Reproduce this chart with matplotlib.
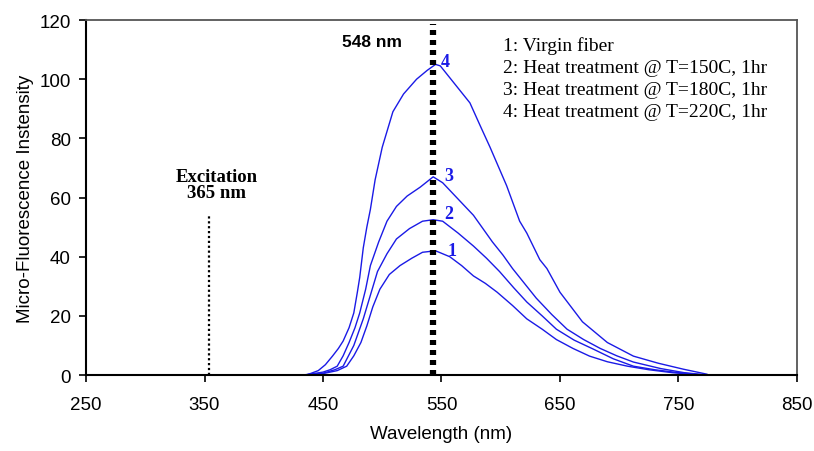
import matplotlib
matplotlib.use('Agg')
import matplotlib.pyplot as plt

# Spectra (wavelength nm, intensity)
wl_1 = [430, 450, 462, 470, 476, 482, 487, 492, 498, 506, 515, 525, 534, 545, 557, 567, 577, 587, 597, 610, 622, 635, 647, 661, 675, 690, 707, 725, 745, 770]
int_1 = [0, 0.5, 1.5, 3, 6.5, 11, 16.6, 23, 29, 34, 37, 39.5, 41.5, 42, 40, 37, 33.5, 31, 28, 23.5, 19, 15.5, 12, 9, 6.4, 4.5, 3, 1.8, 0.8, 0]

wl_2 = [432, 450, 460, 467, 476, 484, 490, 496, 504, 512, 523, 534, 543, 551, 564, 577, 588, 599, 611, 622, 635, 647, 662, 678, 695, 712, 730, 750, 772]
int_2 = [0, 0.6, 1.8, 3, 10, 19, 27, 35, 41, 46, 49.5, 52, 52.5, 52, 48, 43.6, 39.5, 35, 29.5, 24.7, 20, 15.5, 11.8, 8.8, 5.5, 3, 1.8, 0.8, 0]

wl_3 = [434, 450, 456, 462, 467, 472, 477, 481, 486, 490, 497, 504, 512, 521, 532, 543, 551, 564, 577, 593, 602, 610, 620, 630, 643, 656, 670, 684, 698, 712, 735, 755, 775]
int_3 = [0, 1, 1.8, 3, 6.5, 11, 16, 21, 29, 37, 45, 52, 57, 60.5, 63.5, 67, 65, 59.5, 54, 45, 40.5, 36, 31, 26, 20.5, 15.5, 12, 9, 6.5, 4.4, 2.2, 0.8, 0]

wl_4 = [436, 446, 452, 458, 463, 467, 472, 476, 479, 481, 484, 487, 490, 494, 500, 509, 518, 529, 538, 545, 549, 560, 574, 583, 591, 605, 616, 622, 633, 639, 650, 669, 690, 712, 733, 754, 774]
int_4 = [0, 1.5, 3.5, 6.4, 9, 11.5, 16, 21, 28, 33, 43, 50, 56, 66, 77, 89, 95, 100, 103, 105, 104.5, 99, 92, 84, 77, 64, 52, 48, 39, 36, 28, 18, 11, 6.4, 4, 2, 0.3]

curve_labels = ['1', '2', '3', '4']
label_pos = [(559, 42), (556, 54.5), (556, 67.5), (553, 106)]

legend_lines = [
    '1: Virgin fiber',
    '2: Heat treatment @ T=150C, 1hr',
    '3: Heat treatment @ T=180C, 1hr',
    '4: Heat treatment @ T=220C, 1hr',
]

excitation_x = 354
excitation_top = 54.5
peak_x = 543
peak_top = 118.5

blue = '#1a1ae6'

fig = plt.figure(figsize=(8.14, 4.52), dpi=100)
ax = fig.add_axes([0.1057, 0.168, 0.8733, 0.7855])

for wl, inten in [(wl_1, int_1), (wl_2, int_2), (wl_3, int_3), (wl_4, int_4)]:
    ax.plot(wl, inten, color=blue, linewidth=1.0)

for lab, (x, y) in zip(curve_labels, label_pos):
    ax.text(x, y, lab, color=blue, fontsize=13, fontweight='bold',
            family='Liberation Serif', ha='center', va='center')

# excitation marker
ax.plot([excitation_x, excitation_x], [0, excitation_top], color='black',
        linestyle=(0, (1, 1.2)), linewidth=1.6)
ax.text(360, 64.5, 'Excitation\n365 nm', ha='center', va='center', fontsize=13.5,
        fontweight='bold', family='Liberation Serif', linespacing=0.95)

# emission peak marker
ax.plot([peak_x, peak_x], [0, peak_top], color='black',
        linestyle=(0, (0.8, 0.8)), linewidth=4.5)
ax.text(491, 112.7, '548 nm', ha='center', va='center', fontsize=12.5,
        fontweight='bold', family='Liberation Sans')

ax.text(602, 114.5, '\n'.join(legend_lines), ha='left', va='top', fontsize=14,
        family='Liberation Serif', linespacing=1.38)

ax.set_xlim(250, 850)
ax.set_ylim(0, 120)
ax.set_xticks(range(250, 851, 100))
ax.set_yticks(range(0, 121, 20))
ax.tick_params(labelsize=13.5, direction='out', length=5, width=1.2)
ax.tick_params(axis='x', pad=10)
ax.tick_params(axis='y', pad=6)
for lab in ax.get_xticklabels() + ax.get_yticklabels():
    lab.set_family('Liberation Sans')
ax.set_xlabel('Wavelength (nm)', fontsize=13.5, family='Liberation Sans', labelpad=9)
ax.set_ylabel('Micro-Fluorescence Instensity', fontsize=13.5, family='Liberation Sans', labelpad=4)

for side in ['left', 'bottom']:
    ax.spines[side].set_linewidth(1.5)
    ax.spines[side].set_color('black')
for side in ['top', 'right']:
    ax.spines[side].set_linewidth(1.3)
    ax.spines[side].set_color('#555555')

fig.savefig('out.png', dpi=100)
